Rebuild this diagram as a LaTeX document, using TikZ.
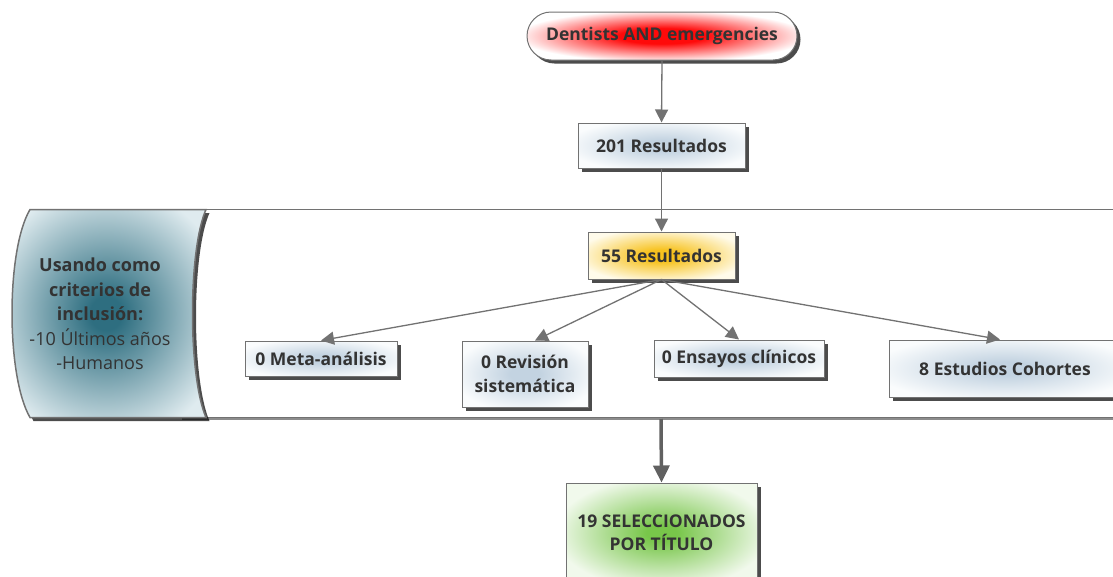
\documentclass[tikz,border=0pt]{standalone}
\usepackage{fontspec}
\setmainfont{Open Sans}
\usetikzlibrary{arrows.meta,shadows,calc}
\definecolor{txt}{HTML}{333333}
\definecolor{edge}{HTML}{727272}
\definecolor{glowred}{HTML}{FF0A0A}
\definecolor{glowblue}{HTML}{C3D3E1}
\definecolor{glowyel}{HTML}{F7C21E}
\definecolor{glowgreen}{HTML}{78C64A}
\definecolor{glowteal}{HTML}{2E6E80}
\definecolor{paleblue}{HTML}{FAFCFD}
\definecolor{paleyel}{HTML}{FFFBEA}
\definecolor{palegreen}{HTML}{F1F9EC}
\definecolor{paleteal}{HTML}{DFEBEF}
\pgfdeclareradialshading{redglow}{\pgfpointorigin}{color(0bp)=(glowred); color(8bp)=(glowred); color(27bp)=(white); color(50bp)=(white)}
\pgfdeclareradialshading{blueglow}{\pgfpointorigin}{color(0bp)=(glowblue); color(6bp)=(glowblue); color(29bp)=(paleblue); color(50bp)=(paleblue)}
\pgfdeclareradialshading{yelglow}{\pgfpointorigin}{color(0bp)=(glowyel); color(6bp)=(glowyel); color(29bp)=(paleyel); color(50bp)=(paleyel)}
\pgfdeclareradialshading{greenglow}{\pgfpointorigin}{color(0bp)=(glowgreen); color(4bp)=(glowgreen); color(28bp)=(palegreen); color(50bp)=(palegreen)}
\pgfdeclareradialshading{tealglow}{\pgfpointorigin}{color(0bp)=(glowteal); color(4bp)=(glowteal); color(31bp)=(paleteal); color(50bp)=(paleteal)}
\tikzset{
  shad/.style={drop shadow={shadow xshift=3.5pt,shadow yshift=-3.5pt,fill=black,opacity=0.7}},
  box/.style={draw=edge, line width=1pt, shad, align=center, text=txt,
    font=\fontsize{17.5}{24}\selectfont\bfseries, inner sep=0pt},
  conn/.style={draw=edge, line width=1.3pt, -{Triangle[length=13pt,width=13pt]}},
}
\begin{document}
\begin{tikzpicture}[x=1pt,y=-1pt]
\useasboundingbox (0,0) rectangle (1113,576);
% band
\draw[edge, line width=1.8pt, fill=white,
  drop shadow={shadow xshift=1.5pt,shadow yshift=-2.5pt,fill=black,opacity=0.45}]
  (180,209.5) -- (1135,209.5) -- (1135,417.5) -- (180,417.5) -- cycle;
\path[draw=edge, line width=1.5pt, shading=tealglow, shad]
  (30,209.5) -- (206,209.5) .. controls (188,250) and (188,376) .. (206,417.5)
  -- (30,417.5) .. controls (6,376) and (6,250) .. (30,209.5) -- cycle;
\node[align=center, text=txt, font=\fontsize{18}{24.5}\selectfont] (crit) at (100,314)
  {\textbf{Usando como}\\\textbf{criterios de}\\\textbf{inclusión:}\\-10 Últimos años\\-Humanos};
\coordinate (bandbot) at (661,419);
% nodes
\node[box, shading=redglow, rounded corners=24pt, minimum width=270pt, minimum height=48pt] (top) at (662,36) {Dentists AND emergencies};
\node[box, shading=blueglow, minimum width=167pt, minimum height=45pt] (r201) at (661.5,145.5) {201 Resultados};
\node[box, shading=yelglow, minimum width=147pt, minimum height=47pt] (r55) at (661.5,255.5) {55 Resultados};
\node[box, shading=blueglow, minimum width=152pt, minimum height=35pt] (meta) at (321,358.5) {0 Meta-análisis};
\node[box, shading=blueglow, minimum width=126pt, minimum height=66pt] (rev) at (525,374) {0 Revisión\\sistemática};
\node[box, shading=blueglow, minimum width=170pt, minimum height=37pt] (ens) at (739,358.5) {0 Ensayos clínicos};
\node[box, shading=blueglow, minimum width=232pt, minimum height=57pt] (coh) at (1005,368.5) {8 Estudios Cohortes};
\node[box, shading=greenglow, minimum width=191pt, minimum height=100pt, font=\fontsize{17.5}{23}\selectfont\bfseries] (sel) at (661.5,533) {19 SELECCIONADOS\\POR TÍTULO};
% connectors
\draw[conn] (top.south) -- (r201.north);
\draw[conn] (r201.south) -- (r55.north);
\draw[conn] (r55.south) -- (meta.north);
\draw[conn] (r55.south) -- ($(rev.north)+(10,0)$);
\draw[conn] (r55.south) -- (ens.north);
\draw[conn] (r55.south) -- ($(coh.north)+(-5,0)$);
\draw[draw=edge!85!black, line width=3.5pt, -{Triangle[length=17pt,width=16pt]}] (bandbot) -- (sel.north);
\end{tikzpicture}
\end{document}
